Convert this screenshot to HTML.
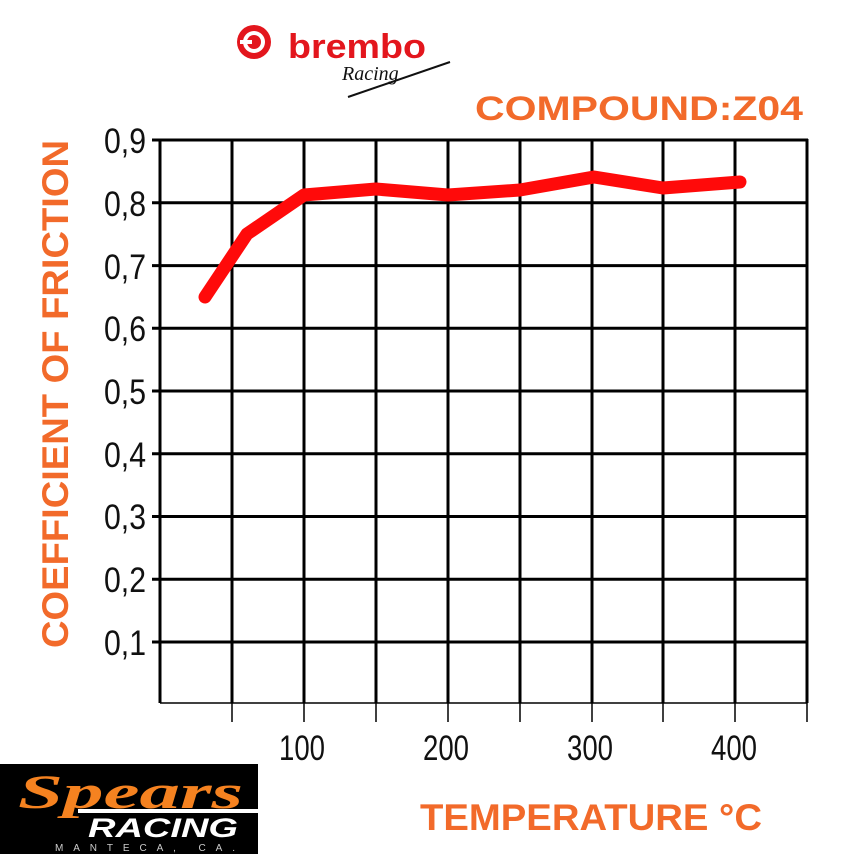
<!DOCTYPE html>
<html><head><style>
body{margin:0;background:#fff;}
</style></head><body>
<svg width="862" height="862" viewBox="0 0 862 862" xmlns="http://www.w3.org/2000/svg" style="display:block">
<rect width="862" height="862" fill="#fff"/>
<circle cx="254" cy="42" r="17" fill="#e3161d"/>
<circle cx="254" cy="42" r="11" fill="#fff"/>
<circle cx="254" cy="42" r="7" fill="#e3161d"/>
<rect x="240" y="40" width="12" height="4" fill="#fff"/>
<text x="288" y="58" font-family="Liberation Sans, sans-serif" font-weight="bold" font-size="34" fill="#e3161d" textLength="138" lengthAdjust="spacingAndGlyphs">brembo</text>
<text x="342" y="80" font-family="Liberation Serif, serif" font-style="italic" font-size="20" fill="#111">Racing</text>
<path d="M348 97 L450 62" stroke="#111" stroke-width="2"/>
<text x="803" y="120" text-anchor="end" font-family="Liberation Sans, sans-serif" font-weight="bold" font-size="34" fill="#f26a2a" textLength="328" lengthAdjust="spacingAndGlyphs">COMPOUND:Z04</text>
<text x="420" y="830" font-family="Liberation Sans, sans-serif" font-weight="bold" font-size="37" fill="#f26a2a" textLength="342" lengthAdjust="spacingAndGlyphs">TEMPERATURE °C</text>
<text transform="translate(68,648) rotate(-90)" font-family="Liberation Sans, sans-serif" font-weight="bold" font-size="37" fill="#f26a2a" textLength="508" lengthAdjust="spacingAndGlyphs">COEFFICIENT OF FRICTION</text>
<g stroke="#000" stroke-width="3">
<line x1="152" y1="140" x2="808" y2="140"/>
<line x1="152" y1="202.8" x2="808" y2="202.8"/>
<line x1="152" y1="265.6" x2="808" y2="265.6"/>
<line x1="152" y1="328.3" x2="808" y2="328.3"/>
<line x1="152" y1="391" x2="808" y2="391"/>
<line x1="152" y1="453.8" x2="808" y2="453.8"/>
<line x1="152" y1="516.5" x2="808" y2="516.5"/>
<line x1="152" y1="579.2" x2="808" y2="579.2"/>
<line x1="152" y1="642" x2="808" y2="642"/>
<line x1="160" y1="139" x2="160" y2="703"/>
<line x1="232" y1="139" x2="232" y2="703"/>
<line x1="304" y1="139" x2="304" y2="703"/>
<line x1="376" y1="139" x2="376" y2="703"/>
<line x1="448" y1="139" x2="448" y2="703"/>
<line x1="520" y1="139" x2="520" y2="703"/>
<line x1="592" y1="139" x2="592" y2="703"/>
<line x1="663" y1="139" x2="663" y2="703"/>
<line x1="735" y1="139" x2="735" y2="703"/>
<line x1="807" y1="139" x2="807" y2="703"/>
</g>
<g stroke="#000" stroke-width="1.5">
<line x1="160" y1="703" x2="807" y2="703"/>
<line x1="232" y1="703" x2="232" y2="722"/>
<line x1="304" y1="703" x2="304" y2="722"/>
<line x1="376" y1="703" x2="376" y2="722"/>
<line x1="448" y1="703" x2="448" y2="722"/>
<line x1="520" y1="703" x2="520" y2="722"/>
<line x1="592" y1="703" x2="592" y2="722"/>
<line x1="663" y1="703" x2="663" y2="722"/>
<line x1="735" y1="703" x2="735" y2="722"/>
<line x1="807" y1="703" x2="807" y2="722"/>
</g>
<g font-family="Liberation Sans Narrow, Liberation Sans, sans-serif" font-size="35" fill="#111" text-anchor="end">
<text x="146" y="153" textLength="42" lengthAdjust="spacingAndGlyphs">0,9</text>
<text x="146" y="216" textLength="42" lengthAdjust="spacingAndGlyphs">0,8</text>
<text x="146" y="279" textLength="42" lengthAdjust="spacingAndGlyphs">0,7</text>
<text x="146" y="341" textLength="42" lengthAdjust="spacingAndGlyphs">0,6</text>
<text x="146" y="404" textLength="42" lengthAdjust="spacingAndGlyphs">0,5</text>
<text x="146" y="467" textLength="42" lengthAdjust="spacingAndGlyphs">0,4</text>
<text x="146" y="529" textLength="42" lengthAdjust="spacingAndGlyphs">0,3</text>
<text x="146" y="592" textLength="42" lengthAdjust="spacingAndGlyphs">0,2</text>
<text x="146" y="655" textLength="42" lengthAdjust="spacingAndGlyphs">0,1</text>
</g>
<g font-family="Liberation Sans Narrow, Liberation Sans, sans-serif" font-size="35" fill="#111" text-anchor="middle">
<text x="302" y="760" textLength="46" lengthAdjust="spacingAndGlyphs">100</text>
<text x="446" y="760" textLength="46" lengthAdjust="spacingAndGlyphs">200</text>
<text x="590" y="760" textLength="46" lengthAdjust="spacingAndGlyphs">300</text>
<text x="734" y="760" textLength="46" lengthAdjust="spacingAndGlyphs">400</text>
</g>
<polyline points="205,297 247,234 304,195 376,189 448,195 520,190 594,177 663,188 740,182" fill="none" stroke="#ff0a0a" stroke-width="13" stroke-linecap="round" stroke-linejoin="round"/>
<rect x="0" y="764" width="258" height="90" fill="#000"/>
<text x="18" y="808" font-family="Liberation Serif, serif" font-style="italic" font-weight="bold" font-size="48" fill="#f58220" textLength="225" lengthAdjust="spacingAndGlyphs">Spears</text>
<rect x="78" y="809" width="180" height="4" fill="#fff"/>
<text x="88" y="837" font-family="Liberation Sans, sans-serif" font-style="italic" font-weight="bold" font-size="27" fill="#fff" textLength="150" lengthAdjust="spacingAndGlyphs">RACING</text>
<text x="55" y="851" font-family="Liberation Sans, sans-serif" font-size="10" fill="#ccc" textLength="180" lengthAdjust="spacing">MANTECA, CA.</text>
</svg>
</body></html>
